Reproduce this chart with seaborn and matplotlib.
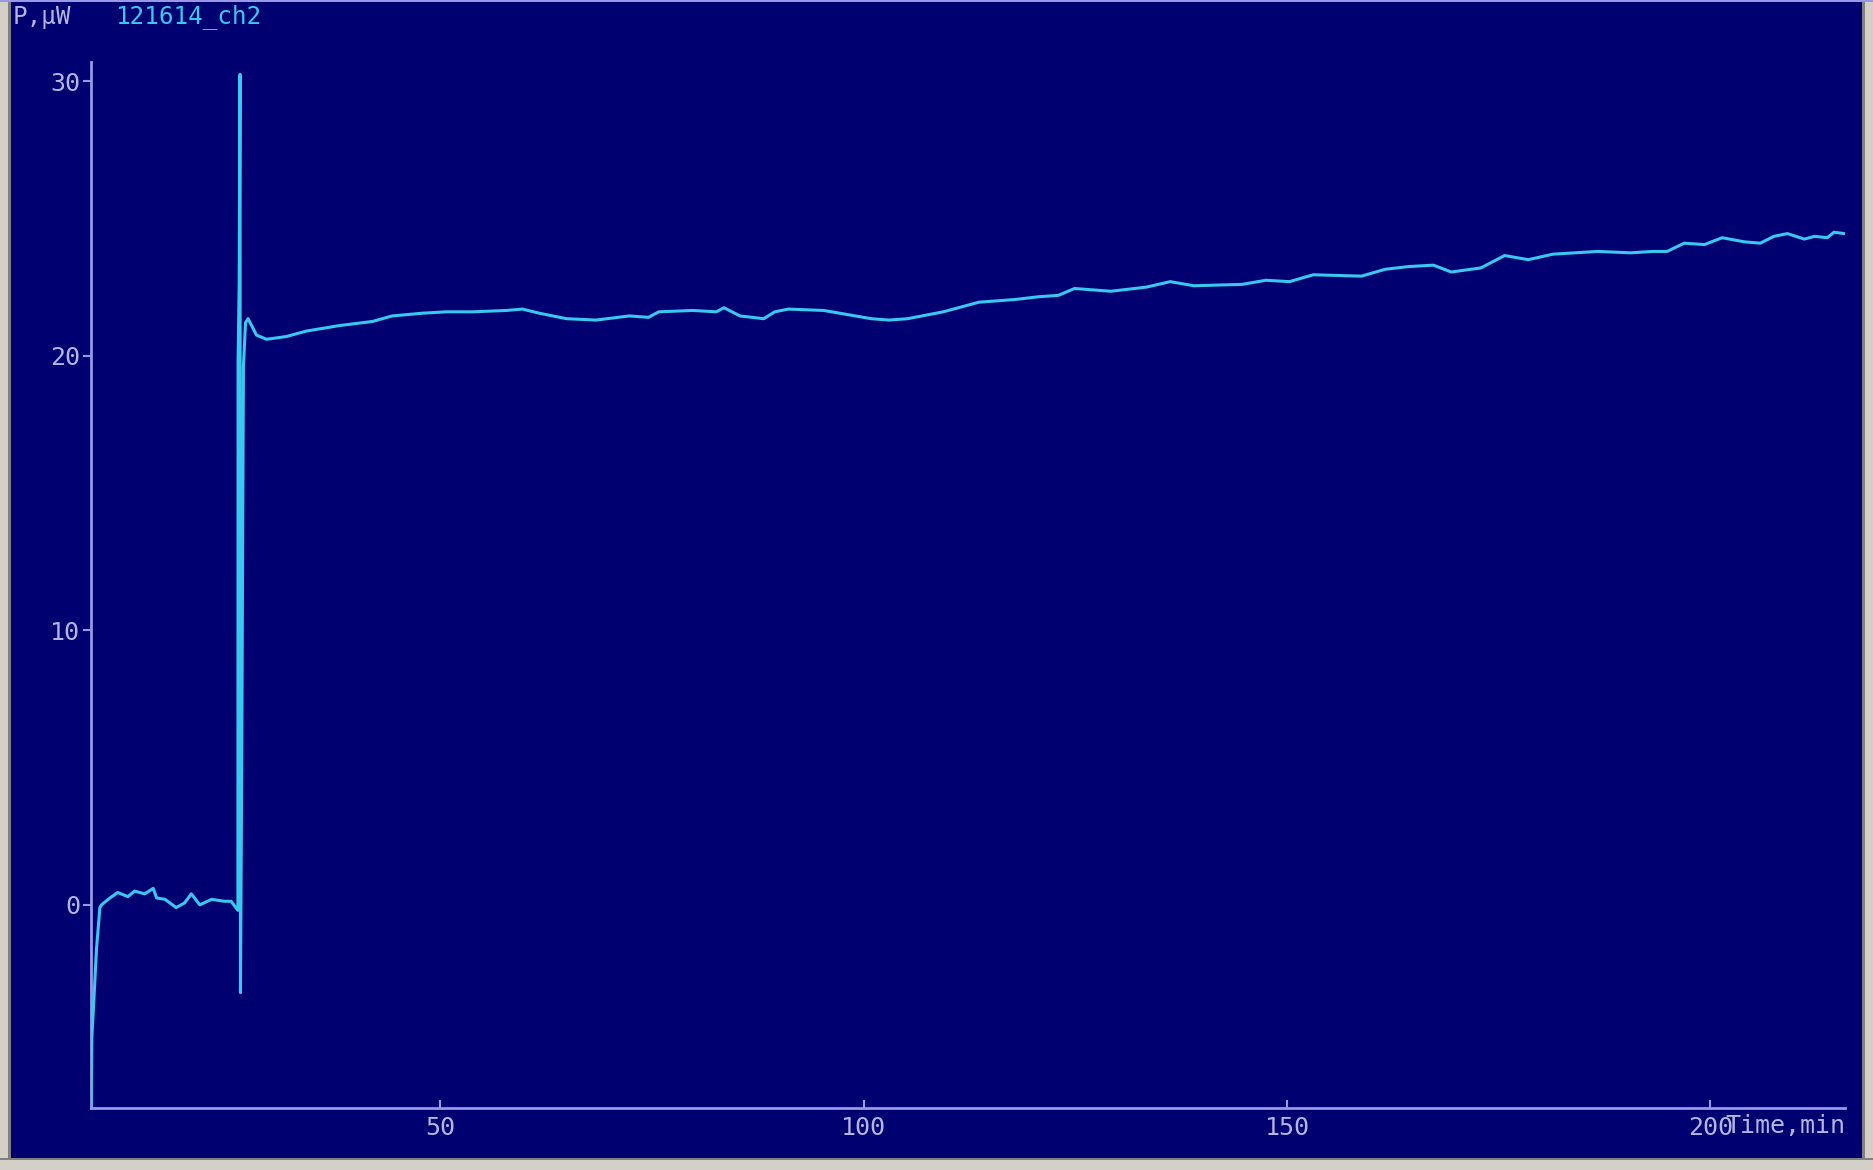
import matplotlib
matplotlib.use("Agg")
import matplotlib.pyplot as plt
from matplotlib.patches import Rectangle
import seaborn as sns
import pandas as pd

# time, min
time_min = [8.75, 8.85, 9.1, 9.4, 9.8, 10.0, 10.77, 11.9, 13.1, 13.9, 15.1, 16.1, 16.5,
            17.5, 18.8, 19.8, 20.6, 21.6, 23.0, 24.5, 25.3, 26.1,
            26.12, 26.25, 26.35, 26.4, 26.55, 26.75, 27.0, 27.3, 28.3, 29.5,
            31.8, 34.2, 38.1, 42.0, 44.3, 47.9, 50.7, 53.8, 57.8, 59.7, 61.7,
            64.9, 68.4, 72.3, 74.6, 75.8, 79.8, 82.6, 83.5, 85.4, 88.2, 89.5,
            91.1, 95.3, 98.1, 100.9, 103.0, 105.2, 109.4, 113.6, 117.9, 120.7,
            123.0, 124.9, 129.2, 133.4, 136.2, 139.0, 144.7, 147.5, 150.3,
            153.1, 158.8, 161.6, 164.4, 167.3, 169.4, 172.9, 175.7, 178.5,
            181.4, 186.7, 190.6, 193.2, 194.9, 196.9, 199.3, 201.4, 204.0,
            205.9, 207.5, 209.1, 211.1, 212.3, 213.8, 214.6, 215.8]
# P, uW
power_uw = [-8.0, -4.85, -3.4, -1.6, -0.1, 0.0, 0.2, 0.45, 0.3, 0.5, 0.4, 0.6, 0.25,
            0.2, -0.1, 0.07, 0.4, 0.0, 0.2, 0.13, 0.13, -0.2,
            19.8, 22.6, 30.25, -3.2, 5.0, 19.6, 21.2, 21.35, 20.75, 20.6,
            20.7, 20.9, 21.1, 21.25, 21.45, 21.55, 21.6, 21.6, 21.65, 21.7, 21.55,
            21.35, 21.3, 21.45, 21.4, 21.6, 21.65, 21.6, 21.75, 21.45, 21.35, 21.6,
            21.7, 21.65, 21.5, 21.35, 21.3, 21.35, 21.6, 21.95, 22.05, 22.15,
            22.2, 22.45, 22.35, 22.5, 22.7, 22.55, 22.6, 22.75, 22.7,
            22.95, 22.9, 23.15, 23.25, 23.3, 23.05, 23.2, 23.65, 23.5,
            23.7, 23.8, 23.75, 23.8, 23.8, 24.1, 24.05, 24.3, 24.15,
            24.1, 24.35, 24.45, 24.25, 24.35, 24.3, 24.5, 24.45]

x_ticks = [50, 100, 150, 200]
y_ticks = [0, 10, 20, 30]

navy = "#000070"
axis_col = "#9898E6"
label_col = "#B4B4E4"
trace_col = "#38C8F0"

sns.set_theme(style="dark")
plt.rcParams["font.family"] = ["DejaVu Sans Mono", "DejaVu Sans"]

W, H = 1874, 1170
fig = plt.figure(figsize=(W / 100, H / 100), dpi=100)
fig.patch.set_facecolor(navy)

ax = fig.add_axes([91 / W, 62 / H, (1845 - 91) / W, (1108 - 62) / H])
ax.set_facecolor(navy)

df = pd.DataFrame({"t": time_min, "p": power_uw})
sns.lineplot(data=df, x="t", y="p", ax=ax, color=trace_col, lw=2.2,
             estimator=None, sort=False, zorder=3)

ax.set_xlim(8.75, 215.9)
ax.set_ylim(-7.4, 30.7)
ax.set_xticks(x_ticks)
ax.set_yticks(y_ticks)
ax.grid(False)
for s in ["top", "right"]:
    ax.spines[s].set_visible(False)
for s in ["left", "bottom"]:
    ax.spines[s].set_color(axis_col)
    ax.spines[s].set_linewidth(2)
ax.tick_params(axis="y", direction="out", length=6, width=1.5, color=axis_col,
               labelcolor=label_col, labelsize=18, pad=2, left=True)
ax.tick_params(axis="x", direction="in", length=6, width=1.5, color=axis_col,
               labelcolor=label_col, labelsize=18, pad=6, bottom=True)
ax.set_xlabel("")
ax.set_ylabel("")

fig.text(1845 / W, 1 - 1126 / H, "Time,min", color=label_col, fontsize=18,
         ha="right", va="center")
fig.text(13 / W, 1 - 17 / H, "P,\u00b5W", color=label_col, fontsize=17.5,
         ha="left", va="center")
fig.text(115 / W, 1 - 17 / H, "121614_ch2", color=trace_col, fontsize=17.5,
         ha="left", va="center")

# window frame
frame = [
    (0, 0, 11, H, "#D4D0C8"),
    (8, 0, 3, H, "#808080"),
    (1862, 0, 12, H, "#D4D0C8"),
    (1862, 0, 3, H, "#808080"),
    (0, 0, W, 10, "#D4D0C8"),
    (0, 10, W, 2, "#808080"),
    (0, H - 2, W, 2, "#9898E6"),
]
for x0, y0, w, h, c in frame:
    fig.patches.append(Rectangle((x0 / W, y0 / H), w / W, h / H, transform=fig.transFigure,
                                 facecolor=c, edgecolor="none", zorder=5))

fig.savefig("out.png", dpi=100, facecolor=fig.get_facecolor())
